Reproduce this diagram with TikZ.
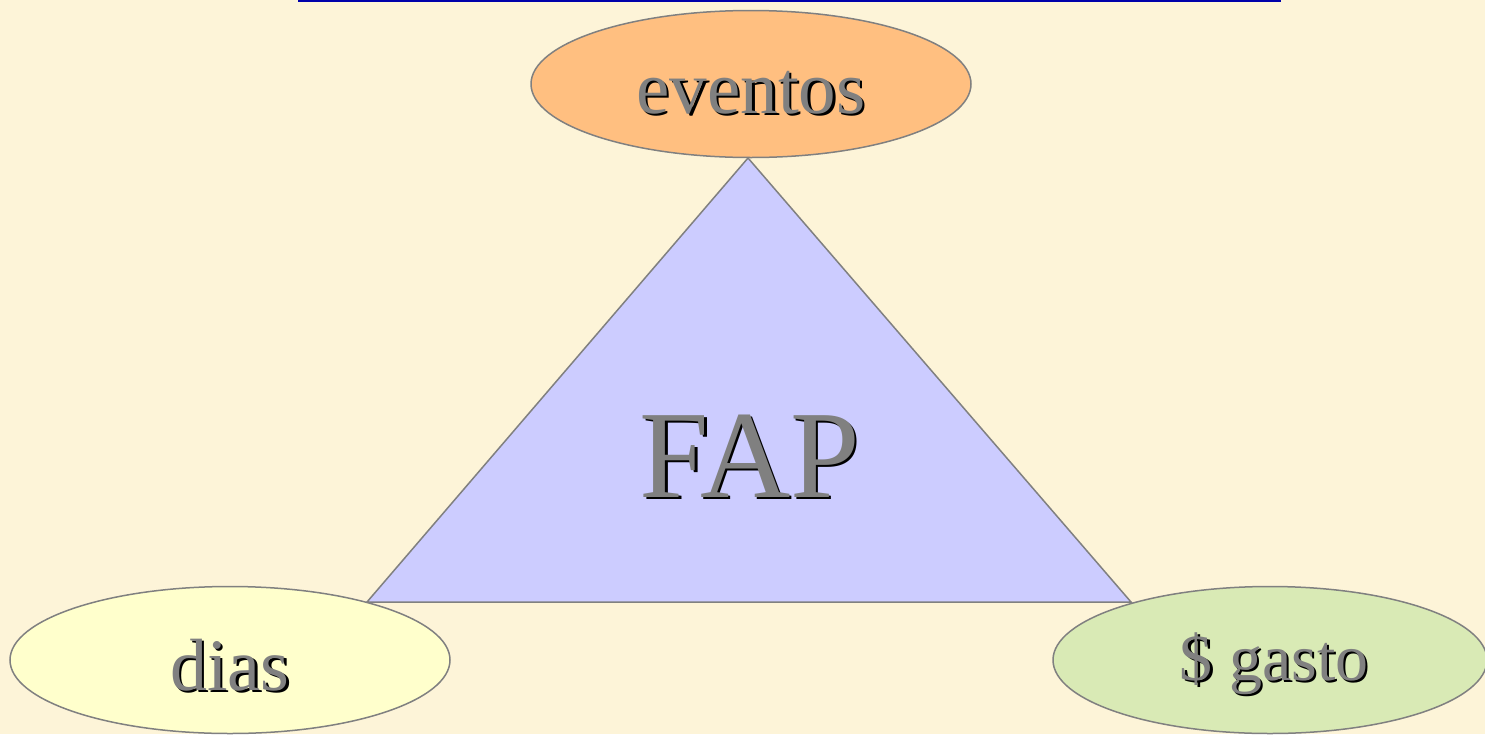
\documentclass[tikz,border=0pt]{standalone}
\usepackage{fontspec}
\setmainfont{Liberation Serif}
\usetikzlibrary{shapes.geometric}
\definecolor{fundo}{RGB}{253,244,216}
\definecolor{laranja}{RGB}{255,191,128}
\definecolor{lilas}{RGB}{204,204,255}
\definecolor{amarelo}{RGB}{255,255,204}
\definecolor{verde}{RGB}{217,234,181}
\definecolor{azul}{RGB}{0,0,170}
\newcommand{\sombra}[1]{\leavevmode\rlap{\hspace{2.5pt}\raisebox{-2.5pt}{\color{black}#1}}{\color{gray}#1}}

\begin{document}
\begin{tikzpicture}[ x=1pt, y=-1pt,
										line width = 1.5pt,
										bolha/.style={ellipse,draw=gray,minimum width=440pt,minimum height=147pt,inner sep=0pt},
										rotulo/.style={anchor=base,inner sep=0pt}]

		\fill[fundo] (0,0) rectangle (1485,734);
		\useasboundingbox (0,0) rectangle (1485,734);
		\draw[azul, line width=1.5pt] (298,0.75) -- (1281,0.75);

		\node [bolha, fill=laranja] (eventos) at (751,84) {};
		\coordinate (esq) at (367,602);
		\coordinate (dir) at (1131,602);
		\filldraw[fill=lilas, draw=gray] (748,158) -- (esq) -- (dir) -- cycle;
		\node [bolha, fill=amarelo] (dias) at (230,660) {};
		\node [bolha, fill=verde, minimum width=434pt] (gasto) at (1270,660) {};

		\node [rotulo, font=\fontsize{75}{80}\selectfont] (eventosT) at (751,113) {\sombra{eventos}};
		\node [rotulo, font=\fontsize{125}{130}\selectfont] (fap) at (750,497) {\sombra{FAP}};
		\node [rotulo, font=\fontsize{74}{80}\selectfont] (diasT) at (230,690) {\sombra{dias}};
		\node [rotulo, font=\fontsize{66}{72}\selectfont] (gastoT) at (1274,680) {\sombra{\$ gasto}};

		\end{tikzpicture}
\end{document}
